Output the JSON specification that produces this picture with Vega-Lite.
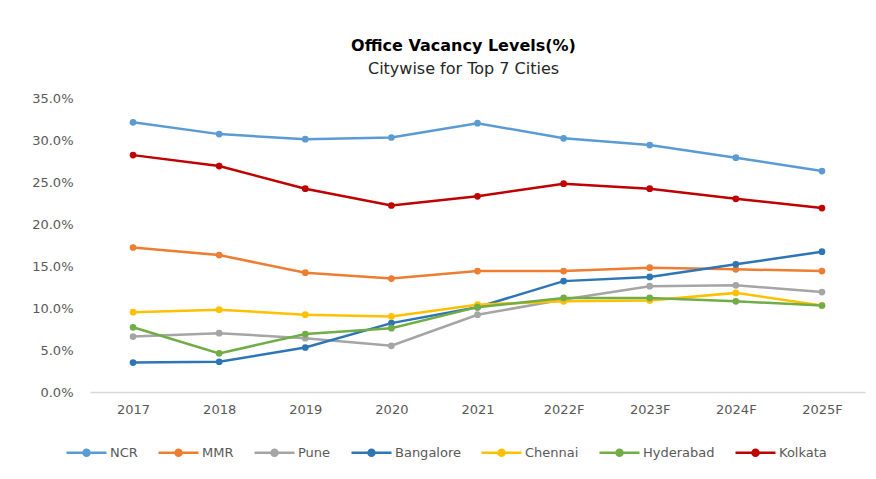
{
  "$schema": "https://vega.github.io/schema/vega-lite/v6.json",
  "autosize": {"type": "none"},
  "padding": {"left": 90, "top": 98, "right": 11, "bottom": 87},
  "width": 775,
  "height": 294,
  "background": "white",
  "title": {
    "text": "Office Vacancy Levels(%)",
    "subtitle": "Citywise for Top 7 Cities",
    "anchor": "middle",
    "dx": -14,
    "offset": 15,
    "font": "DejaVu Sans",
    "fontSize": 16,
    "fontWeight": "bold",
    "color": "#000000",
    "subtitleFont": "DejaVu Sans",
    "subtitleFontSize": 16,
    "subtitleColor": "#262626",
    "subtitlePadding": 7
  },
  "config": {
    "view": {"stroke": null},
    "font": "DejaVu Sans"
  },
  "data": {
    "values": [
      {"year": "2017", "city": "NCR", "v": 32.1},
      {"year": "2018", "city": "NCR", "v": 30.7},
      {"year": "2019", "city": "NCR", "v": 30.1},
      {"year": "2020", "city": "NCR", "v": 30.3},
      {"year": "2021", "city": "NCR", "v": 32.0},
      {"year": "2022F", "city": "NCR", "v": 30.2},
      {"year": "2023F", "city": "NCR", "v": 29.4},
      {"year": "2024F", "city": "NCR", "v": 27.9},
      {"year": "2025F", "city": "NCR", "v": 26.3},
      {"year": "2017", "city": "MMR", "v": 17.2},
      {"year": "2018", "city": "MMR", "v": 16.3},
      {"year": "2019", "city": "MMR", "v": 14.2},
      {"year": "2020", "city": "MMR", "v": 13.5},
      {"year": "2021", "city": "MMR", "v": 14.4},
      {"year": "2022F", "city": "MMR", "v": 14.4},
      {"year": "2023F", "city": "MMR", "v": 14.8},
      {"year": "2024F", "city": "MMR", "v": 14.6},
      {"year": "2025F", "city": "MMR", "v": 14.4},
      {"year": "2017", "city": "Pune", "v": 6.6},
      {"year": "2018", "city": "Pune", "v": 7.0},
      {"year": "2019", "city": "Pune", "v": 6.4},
      {"year": "2020", "city": "Pune", "v": 5.5},
      {"year": "2021", "city": "Pune", "v": 9.2},
      {"year": "2022F", "city": "Pune", "v": 11.0},
      {"year": "2023F", "city": "Pune", "v": 12.6},
      {"year": "2024F", "city": "Pune", "v": 12.7},
      {"year": "2025F", "city": "Pune", "v": 11.9},
      {"year": "2017", "city": "Bangalore", "v": 3.5},
      {"year": "2018", "city": "Bangalore", "v": 3.6},
      {"year": "2019", "city": "Bangalore", "v": 5.3},
      {"year": "2020", "city": "Bangalore", "v": 8.2},
      {"year": "2021", "city": "Bangalore", "v": 10.1},
      {"year": "2022F", "city": "Bangalore", "v": 13.2},
      {"year": "2023F", "city": "Bangalore", "v": 13.7},
      {"year": "2024F", "city": "Bangalore", "v": 15.2},
      {"year": "2025F", "city": "Bangalore", "v": 16.7},
      {"year": "2017", "city": "Chennai", "v": 9.5},
      {"year": "2018", "city": "Chennai", "v": 9.8},
      {"year": "2019", "city": "Chennai", "v": 9.2},
      {"year": "2020", "city": "Chennai", "v": 9.0},
      {"year": "2021", "city": "Chennai", "v": 10.4},
      {"year": "2022F", "city": "Chennai", "v": 10.8},
      {"year": "2023F", "city": "Chennai", "v": 10.9},
      {"year": "2024F", "city": "Chennai", "v": 11.8},
      {"year": "2025F", "city": "Chennai", "v": 10.3},
      {"year": "2017", "city": "Hyderabad", "v": 7.7},
      {"year": "2018", "city": "Hyderabad", "v": 4.6},
      {"year": "2019", "city": "Hyderabad", "v": 6.9},
      {"year": "2020", "city": "Hyderabad", "v": 7.6},
      {"year": "2021", "city": "Hyderabad", "v": 10.1},
      {"year": "2022F", "city": "Hyderabad", "v": 11.2},
      {"year": "2023F", "city": "Hyderabad", "v": 11.2},
      {"year": "2024F", "city": "Hyderabad", "v": 10.8},
      {"year": "2025F", "city": "Hyderabad", "v": 10.3},
      {"year": "2017", "city": "Kolkata", "v": 28.2},
      {"year": "2018", "city": "Kolkata", "v": 26.9},
      {"year": "2019", "city": "Kolkata", "v": 24.2},
      {"year": "2020", "city": "Kolkata", "v": 22.2},
      {"year": "2021", "city": "Kolkata", "v": 23.3},
      {"year": "2022F", "city": "Kolkata", "v": 24.8},
      {"year": "2023F", "city": "Kolkata", "v": 24.2},
      {"year": "2024F", "city": "Kolkata", "v": 23.0},
      {"year": "2025F", "city": "Kolkata", "v": 21.9}
    ]
  },
  "encoding": {
    "x": {
      "field": "year",
      "type": "ordinal",
      "sort": null,
      "scale": {"type": "point", "padding": 0.5},
      "axis": {
        "title": null,
        "labelAngle": 0,
        "labelFontSize": 13,
        "labelColor": "#595959",
        "labelPadding": 11,
        "ticks": false,
        "domainColor": "#D9D9D9",
        "domainWidth": 1.5,
        "grid": false
      }
    },
    "y": {
      "field": "v",
      "type": "quantitative",
      "scale": {"domain": [0, 35], "nice": false, "zero": true},
      "axis": {
        "title": null,
        "values": [0, 5, 10, 15, 20, 25, 30, 35],
        "labelExpr": "format(datum.value, '.1f') + '%'",
        "labelFontSize": 13,
        "labelColor": "#595959",
        "labelPadding": 17,
        "ticks": false,
        "domain": false,
        "grid": false
      }
    },
    "color": {
      "field": "city",
      "type": "nominal",
      "sort": ["NCR", "MMR", "Pune", "Bangalore", "Chennai", "Hyderabad", "Kolkata"],
      "scale": {
        "domain": ["NCR", "MMR", "Pune", "Bangalore", "Chennai", "Hyderabad", "Kolkata"],
        "range": ["#5B9BD5", "#ED7D31", "#A5A5A5", "#2E75B6", "#FFC000", "#70AD47", "#C00000"]
      },
      "legend": {
        "title": null,
        "orient": "none",
        "direction": "horizontal",
        "legendX": -25,
        "legendY": 333,
        "symbolType": "M-1,0H1M0.15,0A0.15,0.15,0,1,1,-0.15,0A0.15,0.15,0,1,1,0.15,0Z",
        "symbolSize": 1600,
        "symbolStrokeWidth": 2.5,
        "labelFontSize": 13,
        "labelColor": "#595959",
        "labelOffset": 2,
        "columnPadding": 15,
        "encode": {
          "symbols": {"update": {"fill": {"scale": "color", "field": "value"}, "fillOpacity": {"value": 1}}}
        }
      }
    },
    "order": {"field": "year"}
  },
  "layer": [
    {"mark": {"type": "line", "strokeWidth": 2.5}},
    {"mark": {"type": "point", "filled": true, "opacity": 1, "size": 45}}
  ]
}
